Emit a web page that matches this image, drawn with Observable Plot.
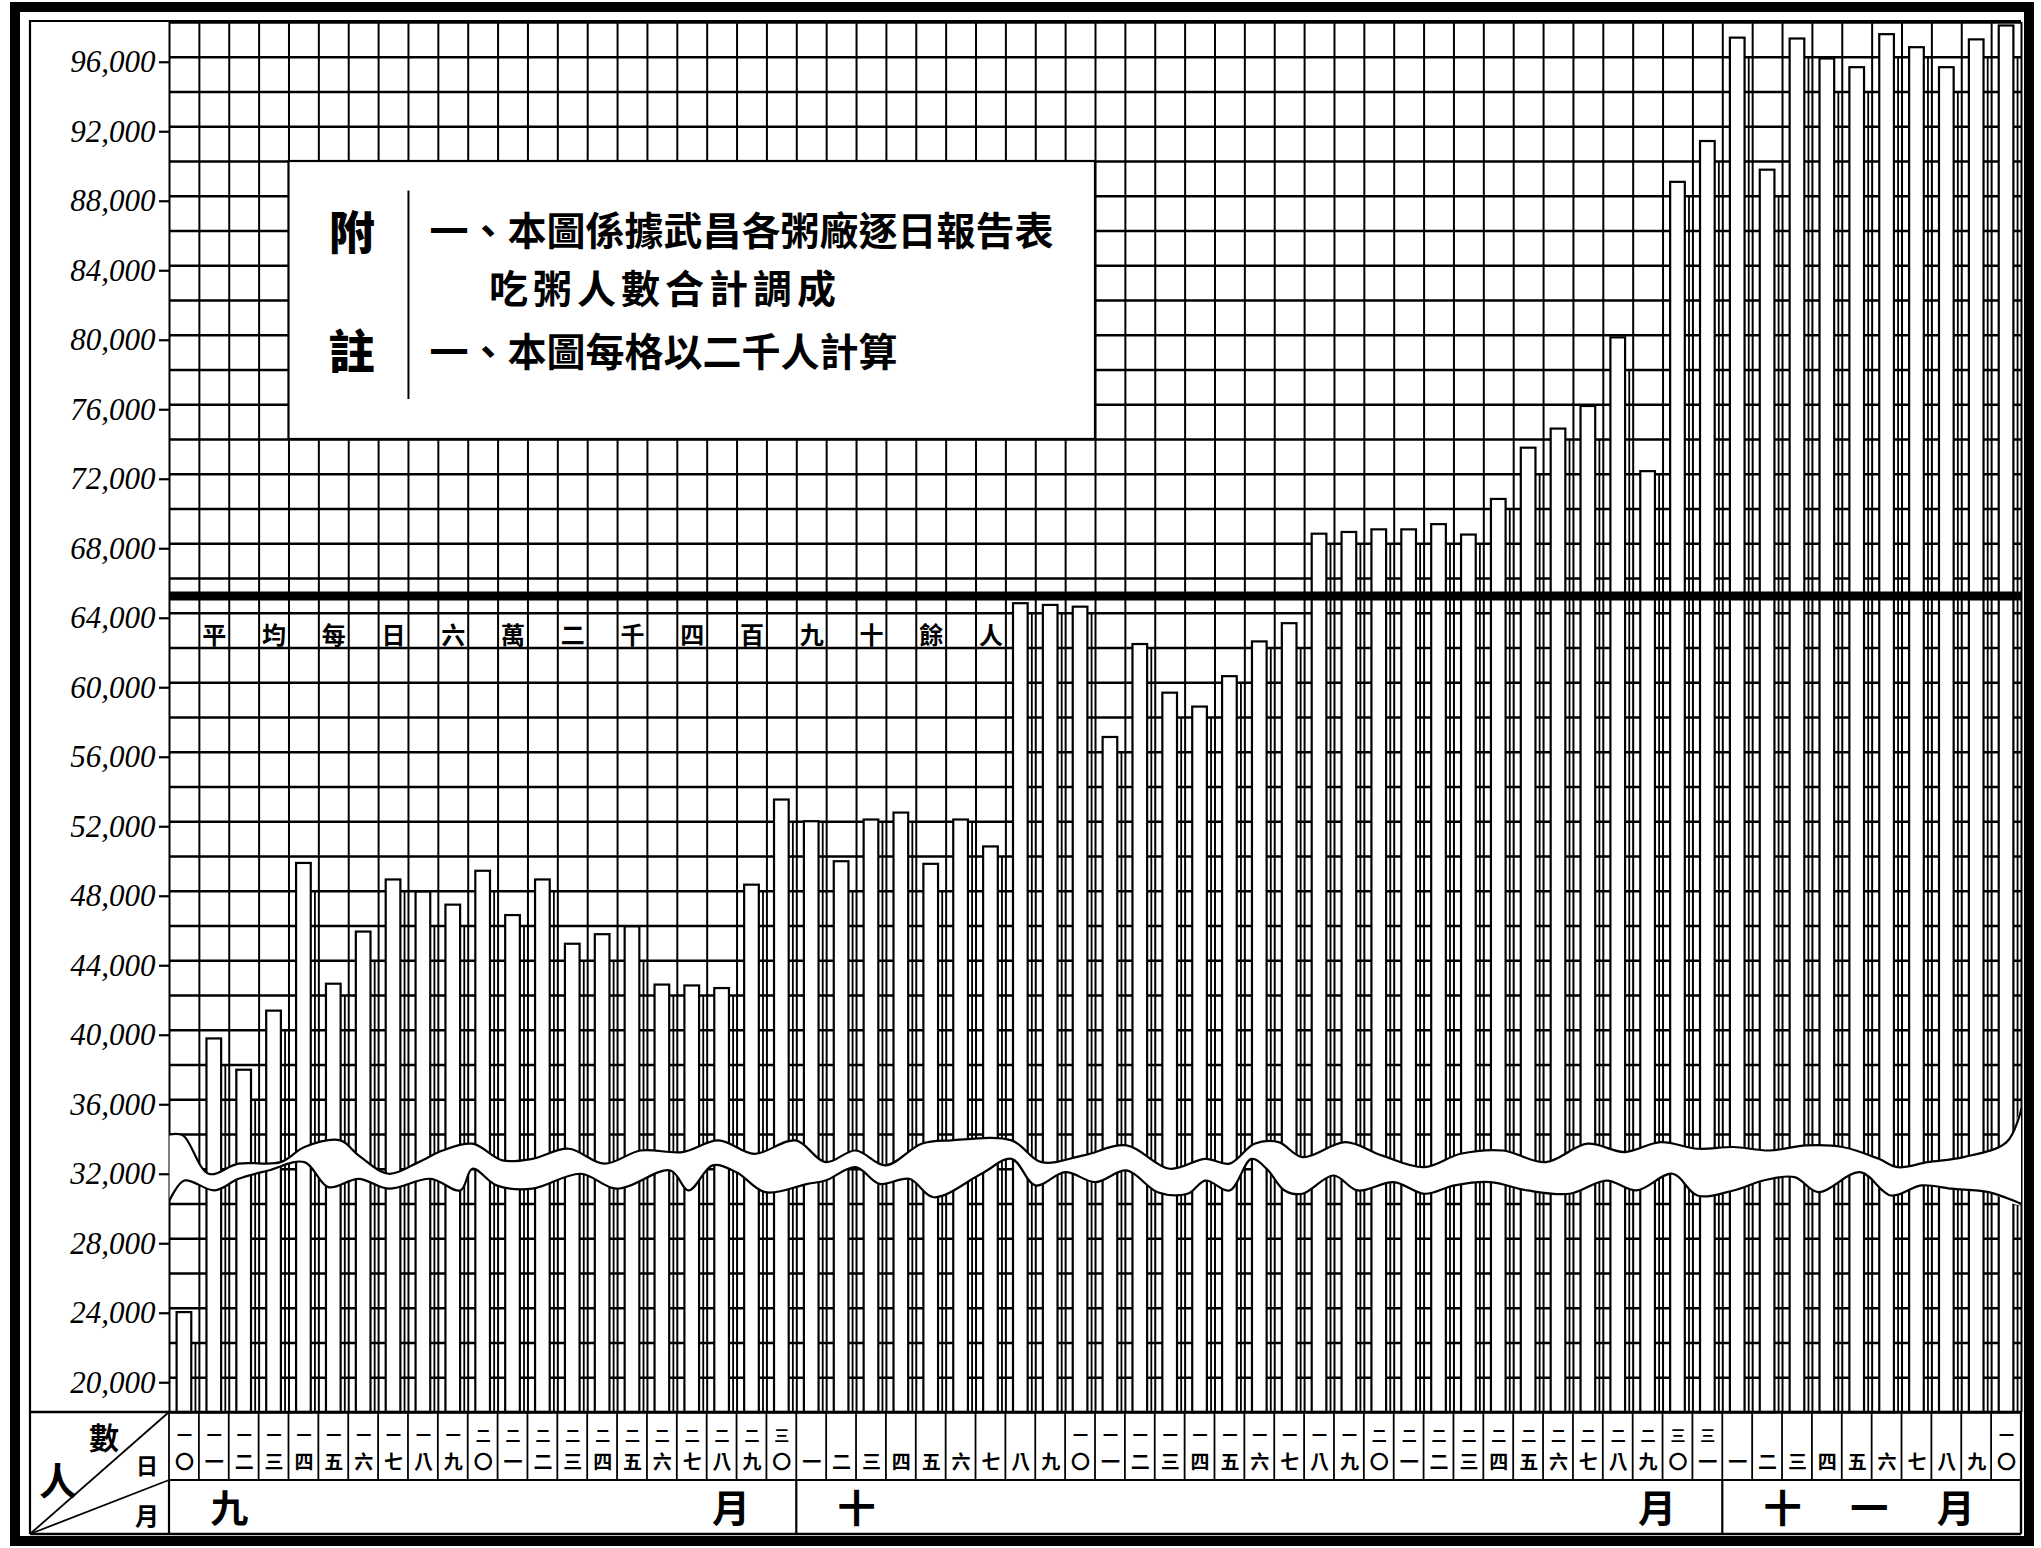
<!DOCTYPE html>
<html>
<head>
<meta charset="utf-8">
<script src="https://cdn.jsdelivr.net/npm/d3@7"></script>
<script src="https://cdn.jsdelivr.net/npm/@observablehq/plot@0.6"></script>
<style>
  html, body { margin: 0; padding: 0; background: #fff; }
  #chart { width: 2041px; height: 1548px; overflow: hidden; }
</style>
</head>
<body>
<div id="chart"></div>
<script>
// ---------- data ----------
const septDays = [10,11,12,13,14,15,16,17,18,19,20,21,22,23,24,25,26,27,28,29,30];
const septValues = [23750, 39500, 37700, 41100, 49600, 42650, 45650, 48650, 47950, 47200, 49150,
                    46600, 48650, 44950, 45500, 45950, 42600, 42550, 42400, 48350, 53250];
const octDays = [1,2,3,4,5,6,7,8,9,10,11,12,13,14,15,16,17,18,19,20,21,22,23,24,25,26,27,28,29,30,31];
const octValues = [52000, 49700, 52100, 52500, 49550, 52100, 50550, 64550, 64450, 64350, 56850,
                   62200, 59400, 58600, 60350, 62350, 63400, 68550, 68650, 68800, 68800, 69100,
                   68500, 70550, 73500, 74600, 75900, 79850, 72150, 88800, 91150];
const novDays = [1,2,3,4,5,6,7,8,9,10];
const novValues = [97100, 89500, 97050, 95900, 95400, 97300, 96550, 95400, 97000, 97800];

const monthNames = ["九月", "十月", "十一月"];
const numerals = ["〇","一","二","三","四","五","六","七","八","九"];
const yTickValues = [20000, 24000, 28000, 32000, 36000, 40000, 44000, 48000, 52000, 56000,
                     60000, 64000, 68000, 72000, 76000, 80000, 84000, 88000, 92000, 96000];
const yDomain = [18000, 98000];

const averageLineValue = 65000;
const averageText = "平均每日六萬二千四百九十餘人";
const noteHead = ["附", "註"];
const noteLines = ["一、本圖係據武昌各粥廠逐日報告表", "吃粥人數合計調成", "一、本圖每格以二千人計算"];
const headerTexts = ["人", "數", "日", "月"];

// wavy break of the scale (upper and lower edge), in day units and persons
const waveTopX = [0, 0.45, 1.31, 2.31, 3.72, 4.52, 5.72, 6.33, 7.33, 8.34, 9.14, 10.14, 11.15, 12.15,
  13.36, 14.56, 15.77, 17.17, 18.38, 19.58, 20.96, 21.96, 22.97, 23.97, 25.18, 26.18, 28.19, 29.19,
  30.6, 32.04, 33.48, 34.68, 35.49, 36.32, 37.13, 37.93, 39.37, 40.58, 42.01, 43.22, 44.63, 46.07,
  47.47, 48.71, 49.92, 51.15, 52.36, 53.57, 54.8, 56.01, 57.22, 57.85, 58.86, 60.06, 61.5, 62];
const waveTopV = [34000, 33950, 31740, 32320, 32410, 33280, 33660, 32800, 31740, 32410, 33080, 33470,
  32510, 32600, 33180, 32320, 33080, 32990, 33660, 32890, 33660, 32410, 33080, 32220, 33470, 33660,
  33660, 32410, 32800, 33370, 32030, 32600, 32320, 33470, 33560, 32700, 33560, 32800, 32120, 32890,
  33080, 32410, 33470, 32990, 33560, 33180, 33280, 33080, 33370, 33280, 32600, 32120, 32410, 32700,
  33560, 35500];
const waveBottomX = [0, 0.5, 1.51, 2.31, 3.31, 4.52, 5.32, 6.33, 7.33, 8.74, 9.74, 10.14, 10.95,
  12.15, 13.76, 14.97, 16.77, 17.38, 18.18, 18.98, 19.95, 21.36, 21.96, 22.97, 23.77, 24.77, 25.58,
  27.18, 28.19, 28.99, 29.99, 31.0, 32.04, 33.08, 34.08, 34.68, 35.49, 36.22, 36.73, 37.33, 37.93,
  38.97, 39.77, 40.98, 42.01, 43.02, 44.22, 45.46, 46.87, 48.11, 49.11, 50.32, 51.15, 52.36, 53.36,
  54.4, 55.2, 56.6, 57.63, 58.65, 59.66, 60.9, 62];
const waveBottomV = [30200, 31350, 30780, 31450, 31930, 32410, 30970, 31450, 30880, 31450, 30780,
  32030, 31070, 30880, 31740, 30880, 31930, 30780, 32220, 31830, 30680, 31160, 31350, 32120, 31160,
  31450, 30390, 31740, 32600, 31070, 31830, 31260, 31930, 30680, 30590, 31350, 30780, 32600, 32030,
  30780, 30590, 31640, 30780, 31260, 30590, 31070, 31260, 30780, 30590, 31350, 30780, 31740, 30490,
  30780, 31350, 31550, 30680, 31830, 30490, 31070, 30880, 30680, 30000];

// ---------- tables built from the arrays ----------
const months = [
  {name: monthNames[0], days: septDays, values: septValues},
  {name: monthNames[1], days: octDays, values: octValues},
  {name: monthNames[2], days: novDays, values: novValues}
];
const rows = [];
const monthSpans = [];
months.forEach((m, mi) => {
  const start = rows.length;
  m.days.forEach((d, j) => rows.push({i: rows.length, month: mi, day: d, v: m.values[j]}));
  monthSpans.push({name: m.name, start, end: rows.length});
});
const nDays = rows.length;

const dayUnits = rows.map(r => ({x: r.i + 0.5, t: numerals[r.day % 10]}));
const dayTens = rows.filter(r => r.day >= 10).map(r => ({x: r.i + 0.5, t: numerals[Math.floor(r.day / 10)]}));

const monthChars = [];
monthSpans.forEach(s => {
  const chars = Array.from(s.name);
  const a = s.start + 2, b = s.end - 2.2;
  chars.forEach((c, k) => monthChars.push({t: c, x: chars.length === 1 ? (a + b) / 2 : a + (b - a) * k / (chars.length - 1)}));
});

const avgChars = Array.from(averageText).map((c, k) => ({t: c, x: 1.5 + 2 * k}));

const wavePoly = waveTopX.map((x, k) => ({x, v: waveTopV[k]}))
  .concat(waveBottomX.map((x, k) => ({x, v: waveBottomV[k]})).reverse());
const waveTop = waveTopX.map((x, k) => ({x, v: waveTopV[k]}));
const waveBottom = waveBottomX.map((x, k) => ({x, v: waveBottomV[k]}));

const gridY = d3.range(yDomain[0], yDomain[1] + 1, 2000);
const gridX = d3.range(0, nDays + 1);

const CJK = "'Noto Sans CJK TC', 'Noto Sans CJK SC', sans-serif";
const NUMF = "'Liberation Serif', 'DejaVu Serif', serif";

const plot = Plot.plot({
  width: 2041,
  height: 1548,
  marginLeft: 169,
  marginRight: 20,
  marginTop: 22,
  marginBottom: 136,
  x: {domain: [0, nDays], axis: null},
  y: {domain: yDomain, axis: null},
  style: {background: "white", color: "black", fontFamily: CJK},
  marks: [
    // grid
    Plot.ruleY(gridY, {stroke: "black", strokeWidth: 2.3}),
    Plot.ruleX(gridX, {y1: yDomain[0], y2: yDomain[1], stroke: "black", strokeWidth: 2}),
    // shadow line beside each bar
    Plot.ruleX(rows, {x: d => d.i + 0.5, dx: 11, y1: yDomain[0], y2: d => Math.floor(d.v / 2000) * 2000, stroke: "black", strokeWidth: 1.8}),
    // bars
    Plot.rect(rows, {x1: "i", x2: d => d.i + 1, y1: yDomain[0], y2: "v", insetLeft: 7.6, insetRight: 7.6,
      fill: "white", stroke: "black", strokeWidth: 2.2}),
    // wavy break of the scale
    Plot.line(wavePoly, {x: "x", y: "v", fill: "white", stroke: null, curve: "catmull-rom", clip: true}),
    Plot.line(waveTop, {x: "x", y: "v", stroke: "black", strokeWidth: 2.2, curve: "catmull-rom", clip: true}),
    Plot.line(waveBottom, {x: "x", y: "v", stroke: "black", strokeWidth: 2.2, curve: "catmull-rom", clip: true}),
    // note box
    Plot.rect([0], {x1: 4, x2: 31, y1: 74000, y2: 90000, fill: "white", stroke: "black", strokeWidth: 2.2}),
    Plot.ruleX([8], {y1: 76300, y2: 88300, stroke: "black", strokeWidth: 2}),
    Plot.text([noteHead[0]], {x: 6.1, y: 85800, text: d => d, fontSize: 46, fontWeight: 900, fontFamily: CJK}),
    Plot.text([noteHead[1]], {x: 6.1, y: 78970, text: d => d, fontSize: 46, fontWeight: 900, fontFamily: CJK}),
    Plot.text([noteLines[0]], {x: 8.7, y: 85900, text: d => d, textAnchor: "start", fontSize: 39, fontWeight: 700, fontFamily: CJK}),
    Plot.text([noteLines[1]], {x: 10.7, y: 82550, text: d => d, textAnchor: "start", fontSize: 39, fontWeight: 700, fontFamily: CJK, className: "note2"}),
    Plot.text([noteLines[2]], {x: 8.7, y: 78970, text: d => d, textAnchor: "start", fontSize: 39, fontWeight: 700, fontFamily: CJK}),
    // average line and its text
    Plot.ruleY([averageLineValue], {x1: 0, x2: nDays, stroke: "black", strokeWidth: 9}),
    Plot.text(avgChars, {x: "x", y: 62700, text: "t", fontSize: 24, fontWeight: 700, fontFamily: CJK}),
    // y axis
    Plot.axisY({ticks: yTickValues, tickFormat: d3.format(","), tickSize: 10, tickPadding: 4, dy: 5,
      fontSize: 31, fontStyle: "italic", fontFamily: NUMF, label: null, strokeWidth: 2.2}),
    // day labels (tens above units)
    Plot.text(dayTens, {x: "x", y: yDomain[0], dy: 24, text: "t", fontSize: 15, fontWeight: 700, fontFamily: CJK}),
    Plot.text(dayUnits, {x: "x", y: yDomain[0], dy: 50, text: "t", fontSize: 19, fontWeight: 700, fontFamily: CJK}),
    // month labels
    Plot.text(monthChars, {x: "x", y: yDomain[0], dy: 97, text: "t", fontSize: 38, fontWeight: 700, fontFamily: CJK})
  ]
});

document.getElementById("chart").appendChild(plot);

// ---------- frame and table lines ----------
const sx = plot.scale("x");
const X = v => sx.apply(v);
const svg = d3.select(plot);
svg.selectAll(".note2 text").attr("letter-spacing", 5);
const g = svg.append("g").attr("stroke", "black").attr("fill", "none");
const yBase = 1412, yRow = 1480, yBottom = 1534, xIn = 30, xRight = X(nDays);
// thick outer border
g.append("rect").attr("x", 15).attr("y", 7).attr("width", 2014).attr("height", 1534).attr("stroke-width", 10);
// inner thin frame
g.append("line").attr("x1", xIn).attr("x2", xIn).attr("y1", 20).attr("y2", yBottom).attr("stroke-width", 2.2);
g.append("line").attr("x1", xIn).attr("x2", xRight).attr("y1", 21).attr("y2", 21).attr("stroke-width", 2.2);
g.append("line").attr("x1", xIn).attr("x2", xRight).attr("y1", yBottom).attr("y2", yBottom).attr("stroke-width", 2.4);
g.append("line").attr("x1", xRight).attr("x2", xRight).attr("y1", yBase).attr("y2", yBottom).attr("stroke-width", 2.2);
// table rows
g.append("line").attr("x1", xIn).attr("x2", xRight).attr("y1", yBase).attr("y2", yBase).attr("stroke-width", 2.6);
g.append("line").attr("x1", X(0)).attr("x2", xRight).attr("y1", yRow).attr("y2", yRow).attr("stroke-width", 2.2);
gridX.forEach(i => g.append("line").attr("x1", X(i)).attr("x2", X(i)).attr("y1", yBase).attr("y2", yRow).attr("stroke-width", 1.8));
[0, ...monthSpans.map(s => s.end)].forEach(i => g.append("line").attr("x1", X(i)).attr("x2", X(i)).attr("y1", yRow).attr("y2", yBottom).attr("stroke-width", 2.2));
// header cell diagonals
g.append("line").attr("x1", xIn).attr("y1", yBottom).attr("x2", X(0)).attr("y2", yBase).attr("stroke-width", 1.8);
g.append("line").attr("x1", xIn).attr("y1", yBottom).attr("x2", X(0)).attr("y2", yRow).attr("stroke-width", 1.8);
const ht = svg.append("g").attr("fill", "black").attr("font-family", CJK).attr("font-weight", 700).attr("text-anchor", "middle").attr("dominant-baseline", "central");
ht.append("text").attr("x", 58).attr("y", 1478).attr("font-size", 38).text(headerTexts[0]);
ht.append("text").attr("x", 104).attr("y", 1436).attr("font-size", 30).text(headerTexts[1]);
ht.append("text").attr("x", 147).attr("y", 1464).attr("font-size", 22).text(headerTexts[2]);
ht.append("text").attr("x", 147).attr("y", 1514).attr("font-size", 24).text(headerTexts[3]);
</script>
</body>
</html>
